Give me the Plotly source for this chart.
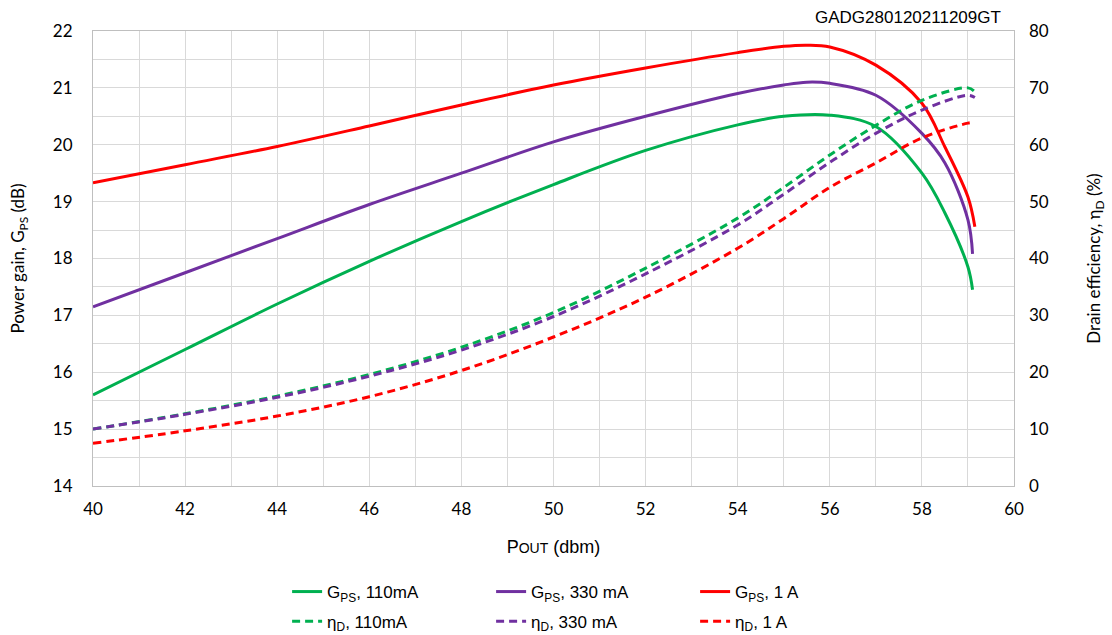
import plotly.graph_objects as go

# Gain curves (dB), left axis
g110_x = [40, 42, 44, 46, 48, 50, 52, 54, 55, 56, 57, 58, 58.5, 59, 59.1]
g110_y = [15.6, 16.4, 17.2, 17.95, 18.65, 19.3, 19.9, 20.35, 20.5, 20.52, 20.32, 19.5, 18.8, 17.85, 17.45]

g330_x = [40, 42, 44, 46, 48, 50, 52, 54, 55, 55.5, 56, 57, 58, 58.5, 59, 59.1]
g330_y = [17.15, 17.75, 18.35, 18.95, 19.5, 20.05, 20.5, 20.9, 21.05, 21.1, 21.08, 20.87, 20.2, 19.68, 18.68, 18.08]

g1a_x = [40, 42, 44, 46, 48, 50, 52, 54, 55, 55.5, 56, 57, 58, 58.5, 59, 59.15]
g1a_y = [19.33, 19.65, 19.97, 20.33, 20.7, 21.05, 21.35, 21.62, 21.73, 21.75, 21.72, 21.4, 20.73, 19.96, 19.08, 18.56]

# Drain efficiency (%), right axis
e110_x = [40, 42, 44, 46, 48, 50, 52, 54, 55, 56, 57, 58, 59, 59.15]
e110_y = [10, 12.7, 15.8, 19.6, 24.4, 30.5, 38.3, 47.1, 52.5, 58.2, 63.4, 67.8, 70.0, 69.3]

e330_x = [40, 42, 44, 46, 48, 50, 52, 54, 55, 56, 57, 58, 59, 59.15]
e330_y = [10, 12.6, 15.6, 19.3, 23.9, 29.8, 37.3, 45.9, 51.3, 56.9, 62.0, 66.1, 68.7, 68.3]

e1a_x = [40, 42, 44, 46, 48, 50, 52, 54, 55, 56, 57, 58, 59, 59.1]
e1a_y = [7.5, 9.7, 12.3, 15.7, 20.3, 26.2, 33.2, 41.8, 47.0, 52.5, 56.8, 61.2, 63.8, 63.9]

GREEN = "#00b050"
PURPLE = "#7030a0"
RED = "#ff0000"

fig = go.Figure()

solid = [(g110_x, g110_y, GREEN, "G<sub>PS</sub>, 110mA"),
         (g330_x, g330_y, PURPLE, "G<sub>PS</sub>, 330 mA"),
         (g1a_x, g1a_y, RED, "G<sub>PS</sub>, 1 A")]
dashed = [(e110_x, e110_y, GREEN, "η<sub>D</sub>, 110mA"),
          (e330_x, e330_y, PURPLE, "η<sub>D</sub>, 330 mA"),
          (e1a_x, e1a_y, RED, "η<sub>D</sub>, 1 A")]

for x, y, c, n in solid:
    fig.add_trace(go.Scatter(x=x, y=y, mode="lines", name=n,
                             line=dict(color=c, width=3, shape="spline", smoothing=1.0),
                             legend="legend"))
for x, y, c, n in dashed:
    fig.add_trace(go.Scatter(x=x, y=y, mode="lines", name=n, yaxis="y2",
                             line=dict(color=c, width=3, dash="8px,5px", shape="spline", smoothing=1.0),
                             legend="legend2"))

tickfont = dict(family="Lato, Carlito, sans-serif", size=17, color="#000")
grid = "#d9d9d9"
legfont = dict(family="Liberation Sans, Arial, sans-serif", size=17, color="#000")

fig.update_layout(
    width=1112, height=635,
    margin=dict(l=93, r=98, t=31, b=149, autoexpand=False),
    paper_bgcolor="white", plot_bgcolor="white",
    font=dict(family="Liberation Sans, Arial, sans-serif", size=16, color="#000"),
    xaxis=dict(range=[40, 60], dtick=2, tick0=40, showgrid=True, gridcolor=grid, gridwidth=1,
               minor=dict(dtick=1, showgrid=True, gridcolor=grid, gridwidth=1),
               showline=True, linecolor="#bfbfbf", linewidth=1, mirror=True,
               ticks="", tickfont=tickfont, zeroline=False, ticklabelstandoff=8,
               title=dict(text="P<span style='font-size:14px'>OUT</span> (dbm)",
                          font=dict(family="Liberation Sans, Arial, sans-serif", size=18), standoff=21)),
    yaxis=dict(range=[14, 22], dtick=1, showgrid=True, gridcolor=grid, gridwidth=1,
               minor=dict(dtick=0.5, showgrid=True, gridcolor=grid, gridwidth=1),
               showline=True, linecolor="#bfbfbf", linewidth=1, mirror=True,
               ticks="", tickfont=tickfont, zeroline=False, ticklabelstandoff=16,
               title=dict(text="Power gain, G<sub>PS</sub> (dB)",
                          font=dict(family="Lato, Carlito, sans-serif", size=17), standoff=23)),
    yaxis2=dict(range=[0, 80], dtick=10, overlaying="y", side="right", showgrid=False,
                ticks="", tickfont=tickfont, zeroline=False, showline=False, ticklabelstandoff=14,
                title=dict(text="Drain efficiency, η<sub>D</sub> (%)",
                           font=dict(family="Lato, Carlito, sans-serif", size=17), standoff=40)),
    legend=dict(orientation="h", x=0.543, xanchor="center", y=-0.233, yanchor="middle",
                entrywidth=159, entrywidthmode="pixels",
                font=legfont, bgcolor="rgba(0,0,0,0)"),
    legend2=dict(orientation="h", x=0.543, xanchor="center", y=-0.298, yanchor="middle",
                 entrywidth=159, entrywidthmode="pixels",
                 font=legfont, bgcolor="rgba(0,0,0,0)"),
    annotations=[dict(text="GADG280120211209GT", xref="paper", yref="paper", x=0.988, y=1.0,
                      xanchor="right", yanchor="bottom", showarrow=False, yshift=2,
                      font=dict(family="Liberation Sans, Arial, sans-serif", size=17))],
)

fig.write_html("out.html", config={"displayModeBar": False},
               post_script="document.body.style.margin='0';")
